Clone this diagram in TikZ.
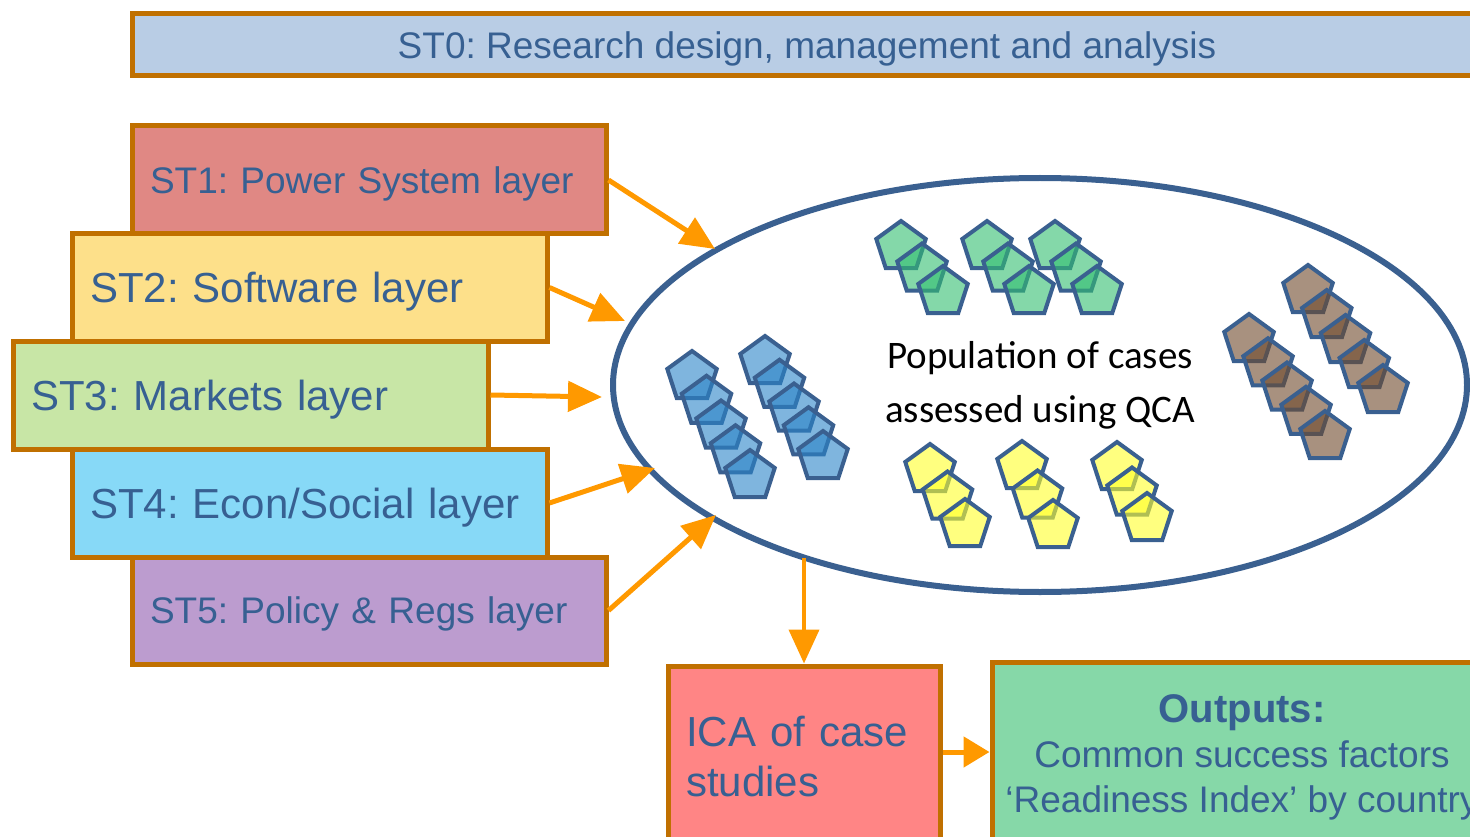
\documentclass[tikz,border=0pt]{standalone}
\usepackage{fontspec}
\setmainfont{Liberation Sans}
\newfontfamily\calibri{Carlito}
\usetikzlibrary{shapes.geometric,arrows.meta}
\frenchspacing
\definecolor{brd}{HTML}{C07000}
\definecolor{txt}{HTML}{376092}
\definecolor{fzero}{HTML}{B9CDE5}
\definecolor{fone}{HTML}{E08884}
\definecolor{ftwo}{HTML}{FDE08A}
\definecolor{fthree}{HTML}{C8E6A6}
\definecolor{ffour}{HTML}{87D9F7}
\definecolor{ffive}{HTML}{BC9CCF}
\definecolor{fica}{HTML}{FF8585}
\definecolor{fout}{HTML}{86D8A8}
\definecolor{arr}{HTML}{FF9900}
\definecolor{ell}{HTML}{3A6090}
\definecolor{pblue}{RGB}{42,132,200}
\definecolor{pgreen}{RGB}{50,190,113}
\definecolor{pyellow}{RGB}{255,255,43}
\definecolor{pbrown}{RGB}{110,73,43}
\begin{document}
\begin{tikzpicture}[x=1pt,y=-1pt,
  box/.style={draw=brd, line width=5pt, text=txt, inner xsep=18pt, inner ysep=0pt, align=left},
  layer/.style={box, text depth=0pt},
  pent/.style={regular polygon, regular polygon sides=5, minimum size=52pt, inner sep=0pt,
    draw=ell, line width=4pt, fill opacity=0.6},
  arrw/.style={draw=arr, line width=5pt, -{Triangle[length=34pt,width=30pt]}},
]
\clip (0,0) rectangle (1470,837);
\fill[white] (0,0) rectangle (1470,837);
% ST0
\node[layer, fill=fzero, minimum width=1358pt, minimum height=62pt, align=center,
  font=\fontsize{37}{44}\selectfont] (st0) at (811,45) {ST0: Research design, management and analysis\hspace{8pt}};
% layer boxes
\node[layer, fill=fone, minimum width=474pt, minimum height=108pt, text width=438pt,
  font=\fontsize{37}{44}\selectfont] (st1) at (369,180) {ST1: Power System layer};
\node[layer, fill=ftwo, minimum width=475pt, minimum height=107pt, text width=439pt,
  font=\fontsize{42}{50}\selectfont] (st2) at (309.5,287.5) {ST2: Software layer};
\node[layer, fill=fthree, minimum width=475pt, minimum height=108pt, text width=439pt,
  font=\fontsize{42}{50}\selectfont] (st3) at (250.5,395) {ST3: Markets layer};
\node[layer, fill=ffour, minimum width=475pt, minimum height=108pt, text width=439pt,
  font=\fontsize{42}{50}\selectfont] (st4) at (309.5,503) {ST4: Econ/Social layer};
\node[layer, fill=ffive, minimum width=474pt, minimum height=107pt, text width=438pt,
  font=\fontsize{37}{44}\selectfont] (st5) at (369,610.5) {ST5: Policy \& Regs layer};
% ellipse
\node[ellipse, draw=ell, line width=6pt, minimum width=854pt, minimum height=414pt] (pop) at (1040,385) {};
\node[align=center, font=\calibri\fontsize{39}{54}\selectfont] (poptxt) at (1040,385)
  {Population of cases\\assessed using QCA};
% pentagons
\foreach \n/\x/\y/\dx/\dy/\k/\c in {
  ba/692/377/14.5/24.75/5/pblue, bb/765/362/14.5/23.75/5/pblue,
  ga/901/247/21/22.5/3/pgreen, gb/987/247/21/22.5/3/pgreen, gc/1055/247/21/22.5/3/pgreen,
  ya/930/470/17.5/27.5/3/pyellow, yb/1022/467/15.5/29.5/3/pyellow, yc/1117/468/15/25.5/3/pyellow,
  ra/1308/291/18.75/25/5/pbrown, rb/1249/340/19/24.25/5/pbrown}{
  \foreach \i in {1,...,\k}{
    \node[pent, fill=\c] (\n-\i) at ({\x+(\i-1)*\dx},{\y+(\i-1)*\dy}) {};
  }
}
% output boxes
\node[box, fill=fica, minimum width=272pt, minimum height=182pt, text width=236pt,
  font=\fontsize{42}{50}\selectfont] (ica) at (804,757) {ICA of case\\studies};
\node[box, fill=fout, minimum width=500pt, minimum height=190pt, align=center, inner xsep=0pt,
  font=\fontsize{37}{45}\selectfont] (out) at (1242,757)
  {\textbf{\fontsize{40}{45}\selectfont Outputs:}\\Common success factors\\`Readiness Index' by country};
% arrow targets
\coordinate (t1) at (715,249);
\coordinate (t2) at (625,321);
\coordinate (t3) at (602,397);
\coordinate (t4) at (655,468);
\coordinate (t5) at (716,515);
\coordinate (d0) at (804,558);
\draw[arrw] (st1.east) -- (t1);
\draw[arrw] (st2.east) -- (t2);
\draw[arrw] (st3.east) -- (t3);
\draw[arrw] (st4.east) -- (t4);
\draw[arrw] (st5.east) -- (t5);
\draw[arrw, line width=4pt] (d0) -- (ica.north);
\draw[draw=arr, line width=5pt, -{Triangle[length=26pt,width=30pt]}] (ica.east |- 0,752) -- (out.west |- 0,752);
\end{tikzpicture}
\end{document}
